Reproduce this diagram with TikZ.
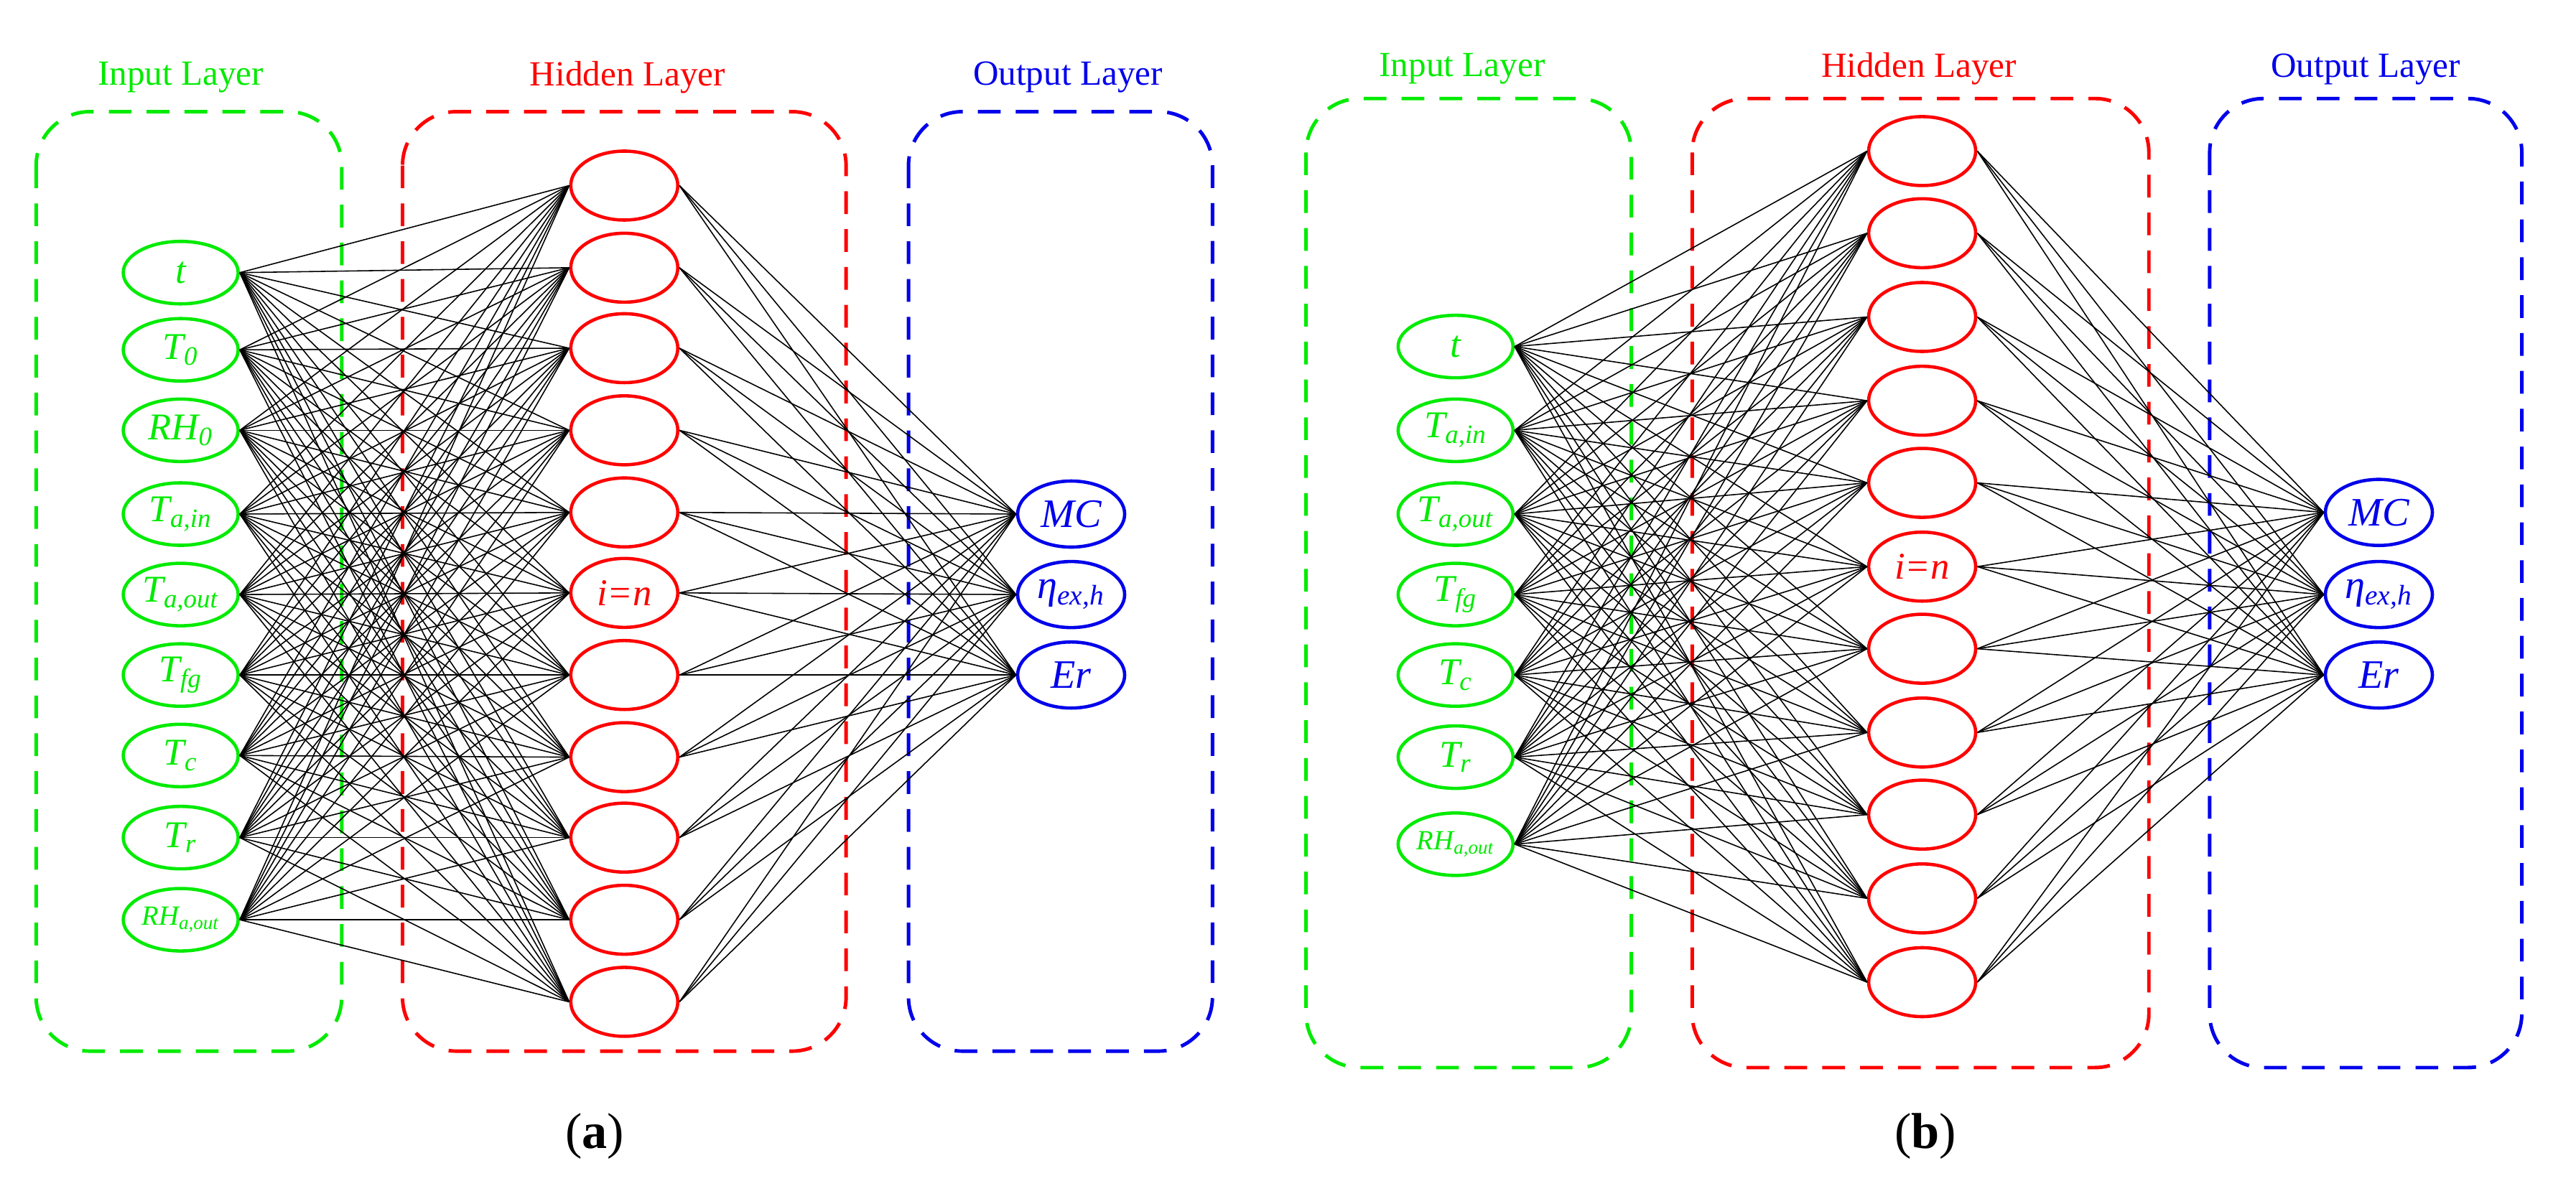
\documentclass[tikz,border=0pt]{standalone}
\usepackage{fontspec}
\setmainfont{Liberation Serif}
\usetikzlibrary{shapes.geometric}
\begin{document}
\definecolor{gn}{RGB}{0,235,0}
\definecolor{rd}{RGB}{255,0,0}
\definecolor{bl}{RGB}{0,0,235}
\begin{tikzpicture}[x=0.02288cm,y=-0.02288cm,
  inp/.style={draw=gn,text=gn,ellipse,line width=1.3pt,minimum width=1.6cm,minimum height=0.87cm,inner sep=0pt,font=\itshape\fontsize{15}{15}\selectfont},
  hid/.style={draw=rd,text=rd,ellipse,line width=1.3pt,minimum width=1.49cm,minimum height=0.96cm,inner sep=0pt,font=\itshape\fontsize{15}{15}\selectfont},
  outn/.style={draw=bl,text=bl,ellipse,line width=1.3pt,minimum width=1.49cm,minimum height=0.92cm,inner sep=0pt,font=\itshape\fontsize{16}{16}\selectfont},
  box/.style={line width=1.4pt,dash pattern=on 9pt off 6pt,rounded corners=0.75cm},
  lay/.style={font=\fontsize{14}{14}\selectfont},
  con/.style={line width=0.45pt,black}]
\useasboundingbox (0,0) rectangle (1568,733);
% panel a boxes
\draw[box,gn] (22,68) rectangle (208,640);
\draw[box,rd] (245,68) rectangle (515,640);
\draw[box,bl] (553,68) rectangle (738,640);
\node[lay,text=gn] (la1) at (110,47) {Input Layer};
\node[lay,text=rd] (la2) at (382,47) {Hidden Layer};
\node[lay,text=bl] (la3) at (650,47) {Output Layer};
% panel a nodes
\foreach \y/\t [count=\i] in {166/t,213/T\textsubscript{0},262/RH\textsubscript{0},313/T\textsubscript{a,in},362/T\textsubscript{a,out},411/T\textsubscript{fg},460/T\textsubscript{c},510/T\textsubscript{r},560/{\fontsize{11}{11}\selectfont RH\textsubscript{a,out}}}
  \node[inp] (ai\i) at (110,\y) {\t};
\foreach \y/\t [count=\i] in {113/,163/,212/,262/,312/,361/{i=n},411/,461/,510/,560/,610/}
  \node[hid] (ah\i) at (380,\y) {\t};
\node[outn] (ao1) at (652,313) {MC};
\node[outn] (ao2) at (652,362) {η\textsubscript{ex,h}};
\node[outn] (ao3) at (652,411) {Er};
\foreach \i in {1,...,9}{\foreach \j in {1,...,11}{\draw[con] (ai\i.east) -- (ah\j.west);}}
\foreach \j in {1,...,11}{\foreach \k in {1,2,3}{\draw[con] (ah\j.east) -- (ao\k.west);}}
\node[font=\fontsize{20}{20}\selectfont] (capa) at (362,692) {(\textbf{a})};
% panel b boxes
\draw[box,gn] (795,60) rectangle (993,650);
\draw[box,rd] (1030,60) rectangle (1308,650);
\draw[box,bl] (1345,60) rectangle (1535,650);
\node[lay,text=gn] (lb1) at (890,42) {Input Layer};
\node[lay,text=rd] (lb2) at (1168,42) {Hidden Layer};
\node[lay,text=bl] (lb3) at (1440,42) {Output Layer};
\foreach \y/\t [count=\i] in {211/t,262/T\textsubscript{a,in},313/T\textsubscript{a,out},362/T\textsubscript{fg},411/T\textsubscript{c},461/T\textsubscript{r},514/{\fontsize{11}{11}\selectfont RH\textsubscript{a,out}}}
  \node[inp] (bi\i) at (886,\y) {\t};
\foreach \y/\t [count=\i] in {92/,142/,193/,244/,294/,345/{i=n},395/,446/,496/,547/,598/}
  \node[hid] (bh\i) at (1170,\y) {\t};
\node[outn] (bo1) at (1448,312) {MC};
\node[outn] (bo2) at (1448,362) {η\textsubscript{ex,h}};
\node[outn] (bo3) at (1448,411) {Er};
\foreach \i in {1,...,7}{\foreach \j in {1,...,11}{\draw[con] (bi\i.east) -- (bh\j.west);}}
\foreach \j in {1,...,11}{\foreach \k in {1,2,3}{\draw[con] (bh\j.east) -- (bo\k.west);}}
\node[font=\fontsize{20}{20}\selectfont] (capb) at (1172,692) {(\textbf{b})};
\end{tikzpicture}
\end{document}
